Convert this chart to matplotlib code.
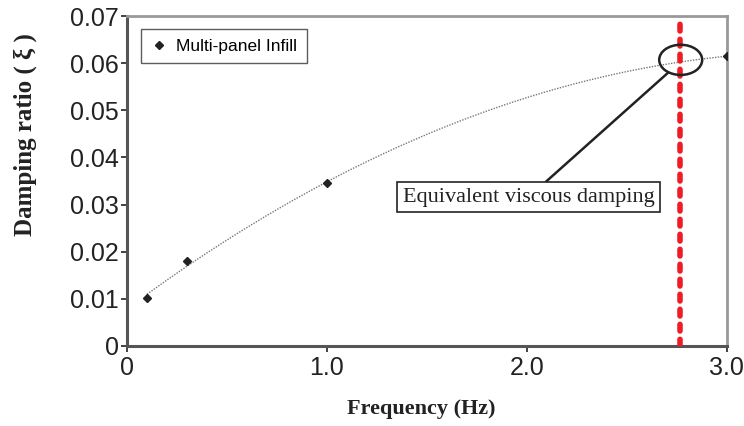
import numpy as np
import matplotlib.pyplot as plt
from matplotlib.patches import Ellipse

# data
freq = [0.1, 0.3, 1.0, 3.0]
damping = [0.0102, 0.018, 0.0345, 0.0615]
f_equiv = 2.765
xticks = [0, 1.0, 2.0, 3.0]
xticklabels = ["0", "1.0", "2.0", "3.0"]
yticks = [0, 0.01, 0.02, 0.03, 0.04, 0.05, 0.06, 0.07]
yticklabels = ["0", "0.01", "0.02", "0.03", "0.04", "0.05", "0.06", "0.07"]

plt.rcParams['font.family'] = ['Liberation Sans', 'DejaVu Sans']

fig = plt.figure(figsize=(7.44, 4.26), dpi=100)
ax = fig.add_axes([0.1707, 0.1878, 0.806, 0.7746])

# polynomial trendline (order 2) like the spreadsheet one
coef = np.polyfit(freq, damping, 2)
xf = np.linspace(min(freq), max(freq), 200)
ax.plot(xf, np.polyval(coef, xf), color='#777777', lw=1.0, ls=(0, (1, 1)), zorder=2)

ax.plot(freq, damping, ls='none', marker='D', ms=4, color='#222222',
        label='Multi-panel Infill', zorder=3)

# equivalent viscous damping frequency
ax.axvline(f_equiv, color='#ee1c25', lw=4, ls=(0, (1.2, 1.5)), dash_capstyle='round', zorder=4)

ax.add_patch(Ellipse((2.77, 0.0607), 0.215, 0.0064, fill=False,
                     ec='#222222', lw=1.8, zorder=5))
ax.annotate("Equivalent viscous damping", xy=(2.705, 0.0579), xytext=(2.01, 0.0316),
            fontsize=16, family='Liberation Serif', ha='center', va='center', color='#222222',
            bbox=dict(boxstyle='square,pad=0.25', fc='white', ec='#222222', lw=1.2),
            arrowprops=dict(arrowstyle='-', color='#222222', lw=1.8, shrinkA=0, shrinkB=0))

ax.set_xlim(0, 3.0)
ax.set_ylim(0, 0.07)
ax.set_xticks(xticks)
ax.set_xticklabels(xticklabels)
ax.set_yticks(yticks)
ax.set_yticklabels(yticklabels)
ax.tick_params(labelsize=18, colors='#222222', length=4, width=1.2)
ax.tick_params(axis='x', pad=3)
ax.tick_params(axis='y', pad=2)

for s in ['left', 'bottom']:
    ax.spines[s].set_color('#555555')
    ax.spines[s].set_linewidth(2.2)
for s in ['top', 'right']:
    ax.spines[s].set_color('#999999')
    ax.spines[s].set_linewidth(2.0)

ax.set_xlabel("Frequency (Hz)", fontsize=16, family='Liberation Serif',
              fontweight='bold', color='#222222')
ax.xaxis.set_label_coords(0.49, -0.16)
ax.set_ylabel("Damping ratio ( ξ )", fontsize=18, family='Liberation Serif',
              fontweight='bold', color='#222222')
ax.yaxis.set_label_coords(-0.15, 0.64)

leg = ax.legend(loc='upper left', bbox_to_anchor=(0.023, 0.96), fontsize=12.5,
                frameon=True, fancybox=False, handletextpad=0.5, borderpad=0.55,
                borderaxespad=0, handlelength=1.0)
leg.get_frame().set_edgecolor('#333333')
leg.get_frame().set_linewidth(1.0)

plt.savefig("out.png", dpi=100)
